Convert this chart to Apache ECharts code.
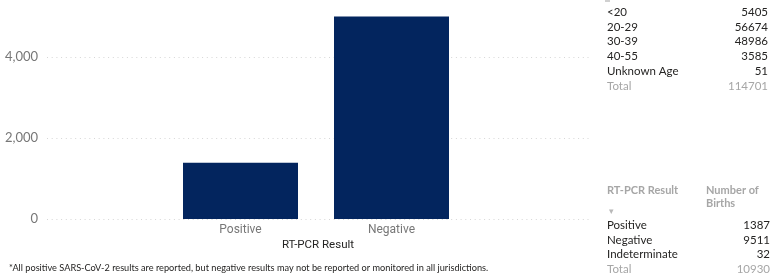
<!DOCTYPE html>
<html>
<head>
<meta charset="utf-8">
<script src="https://cdn.jsdelivr.net/npm/echarts@6/dist/echarts.min.js"></script>
<style>
  html, body { margin: 0; padding: 0; background: #fff; }
  #main { width: 781px; height: 276px; }
</style>
</head>
<body>
<div id="main"></div>
<script>
var categories = ['Positive', 'Negative'];
var births = [1387, 5000];
var yTicks = [0, 2000, 4000];

var ageGroups = ['<20', '20-29', '30-39', '40-55', 'Unknown Age'];
var ageCounts = [5405, 56674, 48986, 3585, 51];
var ageTotal = 114701;

var pcrResults = ['Positive', 'Negative', 'Indeterminate'];
var pcrCounts = [1387, 9511, 32];
var pcrTotal = 10930;

var footnote = '*All positive SARS-CoV-2 results are reported, but negative results may not be reported or monitored in all jurisdictions.';

var myChart = echarts.init(document.getElementById('main'));
var font = '"Segoe UI", Lato, sans-serif';
var dinFont = 'Roboto, sans-serif';

// right hand tables, plain text
var graphics = [];
function cell(text, x, y, align, color, size, weight) {
    graphics.push({
        type: 'text', x: x, y: y,
        style: {
            text: String(text), fill: color, align: align, verticalAlign: 'middle',
            font: (weight || 'normal') + ' ' + (size || 11.5) + 'px ' + font
        }
    });
}
graphics.push({ type: 'rect', shape: { x: 605, y: 0, width: 5, height: 2 }, style: { fill: '#d0d0d0' } });
ageGroups.forEach(function (g, i) {
    cell(g, 607, 12 + i * 14.8, 'left', '#252423');
    cell(ageCounts[i], 768, 12 + i * 14.8, 'right', '#252423');
});
cell('Total', 607, 12 + 5 * 14.8, 'left', '#a6a6a6');
cell(ageTotal, 768, 12 + 5 * 14.8, 'right', '#a6a6a6');

cell('RT-PCR Result', 607, 190, 'left', '#a6a6a6', 11, 'bold');
cell('Number of', 706, 190, 'left', '#a6a6a6', 11, 'bold');
cell('Births', 706, 203, 'left', '#a6a6a6', 11, 'bold');
cell('▾', 609, 211, 'left', '#b8b8b8', 9);
pcrResults.forEach(function (r, i) {
    cell(r, 607, 225 + i * 14.8, 'left', '#252423');
    cell(pcrCounts[i], 770, 225 + i * 14.8, 'right', '#252423');
});
cell('Total', 607, 269.5, 'left', '#a6a6a6');
cell(pcrTotal, 770, 269.5, 'right', '#a6a6a6');

cell(footnote, 9, 268, 'left', '#252423', 9.2);

var option = {
    animation: false,
    grid: [
        { left: 47, right: 192, top: -24, bottom: 57, outerBoundsMode: 'none' },
        { left: 165, right: 314, top: -24, bottom: 57, outerBoundsMode: 'none' }
    ],
    xAxis: [
        {
            gridIndex: 0,
            type: 'category',
            data: [],
            axisLine: { show: false },
            axisTick: { show: false },
            axisLabel: { show: false },
            name: 'RT-PCR Result',
            nameLocation: 'middle',
            nameGap: 20,
            nameTextStyle: { fontSize: 11.5, color: '#252423', fontFamily: dinFont }
        },
        {
            gridIndex: 1,
            type: 'category',
            data: categories,
            axisLine: { show: false },
            axisTick: { show: false },
            axisLabel: { color: '#777', fontSize: 12, margin: 5, fontFamily: dinFont }
        }
    ],
    yAxis: [
        {
            gridIndex: 0,
            type: 'value',
            min: 0,
            max: 6000,
            interval: 2000,
            axisLabel: {
                color: '#777',
                fontSize: 13,
                margin: 9,
                fontFamily: font,
                formatter: function (v) { return yTicks.indexOf(v) >= 0 ? v.toLocaleString('en-US') : ''; }
            },
            splitLine: { lineStyle: { color: '#d6d6d6', type: [1, 3.7], width: 1 } }
        },
        {
            gridIndex: 1,
            type: 'value',
            min: 0,
            max: 6000,
            show: false
        }
    ],
    series: [
        {
            name: 'Number of Births',
            type: 'bar',
            xAxisIndex: 1,
            yAxisIndex: 1,
            barWidth: 115,
            itemStyle: { color: '#03255e' },
            data: births
        }
    ],
    graphic: graphics
};

myChart.setOption(option);
</script>
</body>
</html>
